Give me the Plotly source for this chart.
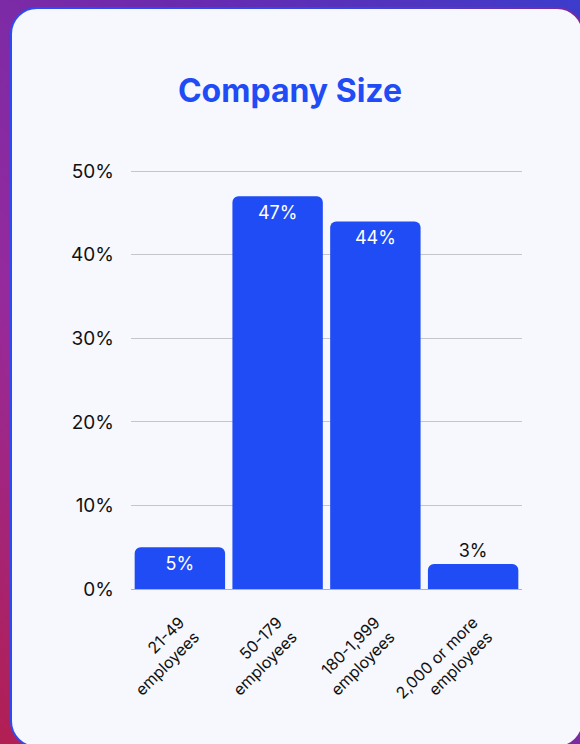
import base64
import plotly.graph_objects as go

# Survey results: share of respondents by company size
categories = ["21-49<br>employees", "50-179<br>employees", "180-1,999<br>employees", "2,000 or more<br>employees"]
shares = [5, 47, 44, 3]
y_ticks = [0, 10, 20, 30, 40, 50]
y_tick_labels = ["0%", "10%", "20%", "30%", "40%", "50%"]

W, H = 580, 744
L, R, T, B = 131, 58, 170, 155
pw, ph = W - L - R, H - T - B

BLUE = "#1f4cf4"
CARD = "#f7f8fd"

# Gradient backdrop with a rounded white card on top
svg = f"""<svg xmlns='http://www.w3.org/2000/svg' width='{W}' height='{H}' viewBox='0 0 {W} {H}'>
<defs>
<linearGradient id='bg' x1='1' y1='0' x2='0' y2='1'>
<stop offset='0' stop-color='#3c3ccc'/>
<stop offset='0.35' stop-color='#6a2aae'/>
<stop offset='0.7' stop-color='#962a9c'/>
<stop offset='1' stop-color='#b21f52'/>
</linearGradient>
<linearGradient id='edge' x1='0' y1='0' x2='1' y2='0'>
<stop offset='0' stop-color='#2a4cf5'/>
<stop offset='0.6' stop-color='#3a45e0'/>
<stop offset='1' stop-color='#7a2a9e'/>
</linearGradient>
</defs>
<rect x='0' y='0' width='{W}' height='{H}' fill='url(#bg)'/>
<rect x='11' y='8' width='572' height='739' rx='26' ry='26' fill='{CARD}' stroke='url(#edge)' stroke-width='2'/>
</svg>"""
src = "data:image/svg+xml;base64," + base64.b64encode(svg.encode()).decode()

text_pos = ["inside", "inside", "inside", "outside"]
text_col = ["white", "white", "white", "#111111"]

fig = go.Figure(
    go.Bar(
        x=categories,
        y=shares,
        marker=dict(color=BLUE, cornerradius=6, line=dict(width=0)),
        text=[f"{v}%" for v in shares],
        textposition=text_pos,
        insidetextanchor="end",
        textfont=dict(family="Inter, Open Sans, sans-serif", size=18, color=text_col),
        outsidetextfont=dict(color="#111111"),
        cliponaxis=False,
        hoverinfo="skip",
    )
)

fig.update_layout(
    width=W,
    height=H,
    margin=dict(l=L, r=R, t=T, b=B),
    paper_bgcolor=CARD,
    plot_bgcolor="rgba(0,0,0,0)",
    bargap=0.075,
    showlegend=False,
    font=dict(family="Inter, Open Sans, sans-serif", color="#111111"),
    title=dict(
        text="<b>Company Size</b>",
        x=0.5,
        xref="container",
        xanchor="center",
        y=1 - 91 / H,
        yanchor="middle",
        font=dict(family="Inter, Open Sans, sans-serif", size=32, color=BLUE),
    ),
    images=[
        dict(
            source=src,
            xref="paper",
            yref="paper",
            x=-L / pw,
            y=1 + T / ph,
            sizex=W / pw,
            sizey=H / ph,
            xanchor="left",
            yanchor="top",
            sizing="stretch",
            layer="below",
        )
    ],
    xaxis=dict(
        tickangle=-45,
        tickfont=dict(size=16, color="#111111"),
        showgrid=False,
        showline=False,
        ticks="",
        ticklabelstandoff=20,
    ),
    yaxis=dict(
        range=[0, 50.15],
        tickvals=y_ticks,
        ticktext=y_tick_labels,
        tickfont=dict(size=19, color="#111111"),
        gridcolor="#c4c5cd",
        gridwidth=1,
        zeroline=True,
        zerolinecolor="#b0b1b9",
        zerolinewidth=1,
        showline=False,
        ticks="",
        ticklabelstandoff=16,
    ),
)

fig.write_html("out.html")
